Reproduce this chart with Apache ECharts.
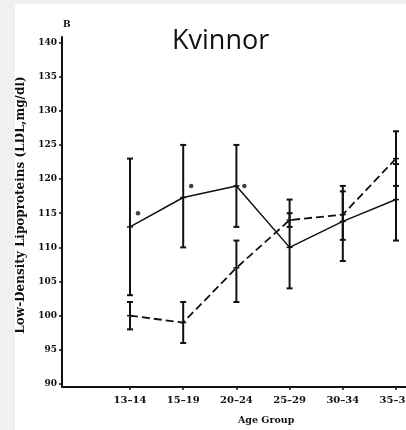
<!DOCTYPE html>
<html>
<head>
<meta charset="utf-8">
<script src="https://cdn.jsdelivr.net/npm/echarts@6/dist/echarts.min.js"></script>
<style>
  html, body { margin: 0; padding: 0; background: #f0f0f0; }
  #charts { position: absolute; left: 15px; top: 4px; width: 391px; height: 426px; background: #fff; }
</style>
</head>
<body>
<div id="charts"></div>
<script>
let categories = ["13–14", "15–19", "20–24", "25–29", "30–34", "35–39"];
let yTicks = [90, 95, 100, 105, 110, 115, 120, 125, 130, 135, 140];

// solid line: mean, lower, upper
let solidMean = [113, 117.3, 119, 110, 113.8, 117];
let solidLow = [103, 110, 113, 104, 108, 111];
let solidHigh = [123, 125, 125, 117, 119, 122.2];

// dashed line
let dashMean = [100, 99, 107, 114, 114.8, 123];
let dashLow = [98, 96, 102, 113, 111.1, 119];
let dashHigh = [102, 102, 111, 115, 118.2, 127];

// significance dots
let dotIndex = [0, 1, 2];
let dotValue = [115, 119, 119];

let chartDom = document.getElementById("charts");
let myChart = echarts.init(chartDom);
let serif = "DejaVu Serif";

function pairs(arr) {
  return arr.map(function (v, i) {
    return [i, v];
  });
}

function errorData(low, high, mean) {
  return low.map(function (v, i) {
    return [i, v, high[i], mean[i]];
  });
}

function renderError(params, api) {
  let x = api.value(0);
  let lo = api.coord([x, api.value(1)]);
  let hi = api.coord([x, api.value(2)]);
  let mid = api.coord([x, api.value(3)]);
  let w = 3;
  let style = { stroke: "#111", lineWidth: 2 };
  return {
    type: "group",
    children: [
      { type: "line", shape: { x1: lo[0], y1: lo[1], x2: hi[0], y2: hi[1] }, style: style },
      { type: "line", shape: { x1: lo[0] - w, y1: lo[1], x2: lo[0] + w, y2: lo[1] }, style: style },
      { type: "line", shape: { x1: hi[0] - w, y1: hi[1], x2: hi[0] + w, y2: hi[1] }, style: style },
      { type: "line", shape: { x1: mid[0] - w, y1: mid[1], x2: mid[0] + w, y2: mid[1] }, style: { stroke: "#111", lineWidth: 1.5 } },
    ],
  };
}

let option = {
  animation: false,
  grid: {
    left: 47,
    right: 0,
    top: 33,
    bottom: 43,
    outerBoundsMode: "none",
  },
  xAxis: {
    type: "value",
    min: -1.278,
    max: 5.188,
    splitLine: { show: false },
    axisLine: { onZero: false, lineStyle: { color: "#111", width: 2 } },
    axisTick: {
      customValues: [0, 1, 2, 3, 4, 5],
      length: 3,
      lineStyle: { color: "#111", width: 1.5 },
    },
    axisLabel: {
      customValues: [0, 1, 2, 3, 4, 5],
      formatter: function (v) {
        return categories[Math.round(v)];
      },
      color: "#111",
      fontFamily: serif,
      fontWeight: "bold",
      fontSize: 10,
      margin: 8,
    },
  },
  yAxis: {
    type: "value",
    min: 89.56,
    max: 140.8,
    splitLine: { show: false },
    name: "Low-Density Lipoproteins (LDL,mg/dl)",
    nameLocation: "middle",
    nameGap: 28,
    nameTextStyle: {
      color: "#111",
      fontFamily: serif,
      fontWeight: "bold",
      fontSize: 12,
      padding: [0, 0, 0, 14],
    },
    axisLine: { show: true, onZero: false, lineStyle: { color: "#111", width: 2 } },
    axisTick: {
      show: true,
      customValues: yTicks,
      length: 3,
      lineStyle: { color: "#111", width: 1.5 },
    },
    axisLabel: {
      customValues: yTicks,
      color: "#111",
      fontFamily: serif,
      fontWeight: "bold",
      fontSize: 9,
      margin: 5,
    },
  },
  graphic: [
    {
      type: "text",
      left: 48,
      top: 16,
      style: { text: "B", fontFamily: serif, fontWeight: "bold", fontSize: 9, fill: "#111" },
    },
    {
      type: "text",
      left: 157,
      top: 24,
      style: { text: "Kvinnor", fontFamily: "Open Sans", fontSize: 27, fill: "#111" },
    },
    {
      type: "text",
      left: 223,
      top: 412,
      style: { text: "Age Group", fontFamily: serif, fontWeight: "bold", fontSize: 9.5, fill: "#111" },
    },
  ],
  series: [
    {
      name: "solid",
      type: "line",
      data: pairs(solidMean),
      symbol: "none",
      lineStyle: { color: "#111", width: 1.5 },
    },
    {
      name: "dashed",
      type: "line",
      data: pairs(dashMean),
      symbol: "none",
      lineStyle: { color: "#111", width: 1.8, type: [8, 4] },
    },
    {
      name: "solidErr",
      type: "custom",
      renderItem: renderError,
      data: errorData(solidLow, solidHigh, solidMean),
      z: 3,
    },
    {
      name: "dashErr",
      type: "custom",
      renderItem: renderError,
      data: errorData(dashLow, dashHigh, dashMean),
      z: 3,
    },
    {
      name: "dots",
      type: "scatter",
      data: dotIndex.map(function (v, i) {
        return [v, dotValue[i]];
      }),
      symbolSize: 4.5,
      symbolOffset: [8, 0],
      itemStyle: { color: "#111" },
    },
  ],
};

option && myChart.setOption(option);
</script>
</body>
</html>
